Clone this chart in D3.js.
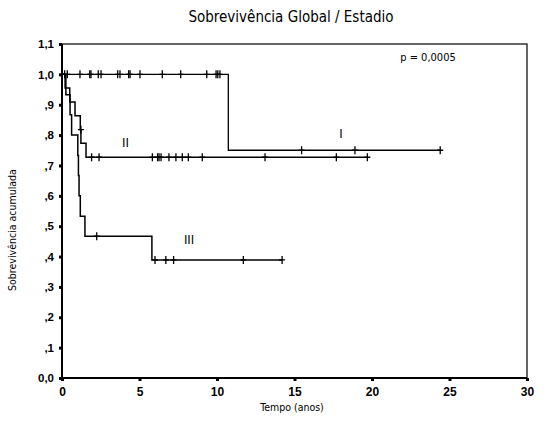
<!DOCTYPE html>
<html><head><meta charset="utf-8">
<script src="https://cdn.jsdelivr.net/npm/d3@7"></script>
<style>body{margin:0;background:#fff}svg{display:block}text{font-family:"Liberation Sans",Arial,sans-serif;fill:#000}
.nar{font-family:"Liberation Sans Narrow","Arial Narrow","DejaVu Sans Condensed",sans-serif}</style>
</head><body><svg id="c" width="550" height="442"></svg>
<script>
const title = "Sobrevivência Global / Estadio";
const xTicks = [0,5,10,15,20,25,30];
const yTicks = [0,0.1,0.2,0.3,0.4,0.5,0.6,0.7,0.8,0.9,1.0,1.1];
const yTickLabels = ["0,0",",1",",2",",3",",4",",5",",6",",7",",8",",9","1,0","1,1"];
const seriesNames = ["I","II","III"];
// step points [time, survival]
const stepsI = [[0,1],[10.73,0.75],[24.4,0.75]];
const stepsII = [[0,1],[0.2,0.955],[0.5,0.909],[0.84,0.864],[1.18,0.818],[1.22,0.773],[1.55,0.727],[19.7,0.727]];
const stepsIII = [[0,1],[0.25,0.933],[0.52,0.867],[0.62,0.80],[1.02,0.733],[1.06,0.667],[1.1,0.6],[1.18,0.533],[1.48,0.467],[5.8,0.389],[14.2,0.389]];
// censor marks [time, survival]
const censI = [[0.17,1],[0.34,1],[1.16,1],[1.79,1],[1.87,1],[2.34,1],[2.52,1],[3.59,1],[3.74,1],[4.3,1],[4.39,1],[5.03,1],[6.47,1],[7.66,1],[9.34,1],[9.94,1],[10.05,1],[10.19,1],[15.46,0.75],[18.9,0.75],[24.4,0.75]];
const censII = [[1.22,0.818],[1.91,0.727],[2.39,0.727],[5.83,0.727],[6.17,0.727],[6.26,0.727],[6.39,0.727],[6.9,0.727],[7.35,0.727],[7.76,0.727],[8.15,0.727],[9.05,0.727],[13.1,0.727],[17.7,0.727],[19.7,0.727]];
const censIII = [[2.24,0.467],[6.0,0.389],[6.7,0.389],[7.2,0.389],[11.7,0.389],[14.2,0.389]];
const labelPos = [[18.0,0.79],[4.1,0.76],[8.2,0.44]];
const pText = "p = 0,0005";

const svg = d3.select("#c");
const L=62, R=527, T=44, B=378;
const x = d3.scaleLinear().domain([0,30]).range([L,R]);
const y = d3.scaleLinear().domain([0,1.1]).range([B,T]);

svg.append("text").attr("class","nar").attr("x",291).attr("y",22).attr("text-anchor","middle").attr("font-size",15).text(title);

// frame
svg.append("rect").attr("x",L).attr("y",T).attr("width",R-L).attr("height",B-T).attr("fill","none").attr("stroke","#000").attr("stroke-width",1.2);
svg.append("line").attr("x1",L).attr("x2",L).attr("y1",T).attr("y2",B).attr("stroke","#000").attr("stroke-width",2);
svg.append("line").attr("x1",L).attr("x2",R).attr("y1",B).attr("y2",B).attr("stroke","#000").attr("stroke-width",2);

// axes
const yAx = svg.append("g").attr("transform",`translate(${L},0)`)
  .call(d3.axisLeft(y).tickValues(yTicks).tickFormat((d,i)=>yTickLabels[i]).tickSize(3).tickPadding(5));
yAx.select(".domain").remove();
yAx.selectAll("line").attr("stroke-width",3);
yAx.selectAll("text").attr("font-size",11.5).attr("font-weight","bold").attr("font-family","Liberation Sans, Arial, sans-serif");
const xAx = svg.append("g").attr("transform",`translate(0,${B})`)
  .call(d3.axisBottom(x).tickValues(xTicks).tickFormat(d3.format("d")).tickSize(3).tickPadding(6));
xAx.select(".domain").remove();
xAx.selectAll("line").attr("stroke-width",3);
xAx.selectAll("text").attr("font-size",12).attr("font-weight","bold").attr("font-family","Liberation Sans, Arial, sans-serif");

svg.append("text").attr("class","nar").attr("transform","translate(16,230) rotate(-90)").attr("text-anchor","middle").attr("font-size",10.5).text("Sobrevivência acumulada");
svg.append("text").attr("class","nar").attr("x",292).attr("y",411).attr("text-anchor","middle").attr("font-size",10.5).text("Tempo (anos)");

const line = d3.line().x(d=>x(d[0])).y(d=>y(d[1])).curve(d3.curveStepAfter);
[stepsI,stepsII,stepsIII].forEach((s,i)=>{
  svg.append("path").attr("d",line(s)).attr("fill","none").attr("stroke","#000").attr("stroke-width",i===0?1.3:1.5);
});
[censI,censII,censIII].forEach(c=>{
  svg.append("g").selectAll("path").data(c).join("path")
    .attr("d",d=>`M${x(d[0])},${y(d[1])-4}V${y(d[1])+4}M${x(d[0])-3},${y(d[1])}H${x(d[0])+3}`)
    .attr("stroke","#000").attr("stroke-width",1.3);
});
seriesNames.forEach((n,i)=>{
  svg.append("text").attr("class","nar").attr("x",x(labelPos[i][0])).attr("y",y(labelPos[i][1])).attr("text-anchor","middle").attr("font-size",13).text(n);
});
svg.append("text").attr("class","nar").attr("x",428).attr("y",61).attr("text-anchor","middle").attr("font-size",11).text(pText);
</script></body></html>
